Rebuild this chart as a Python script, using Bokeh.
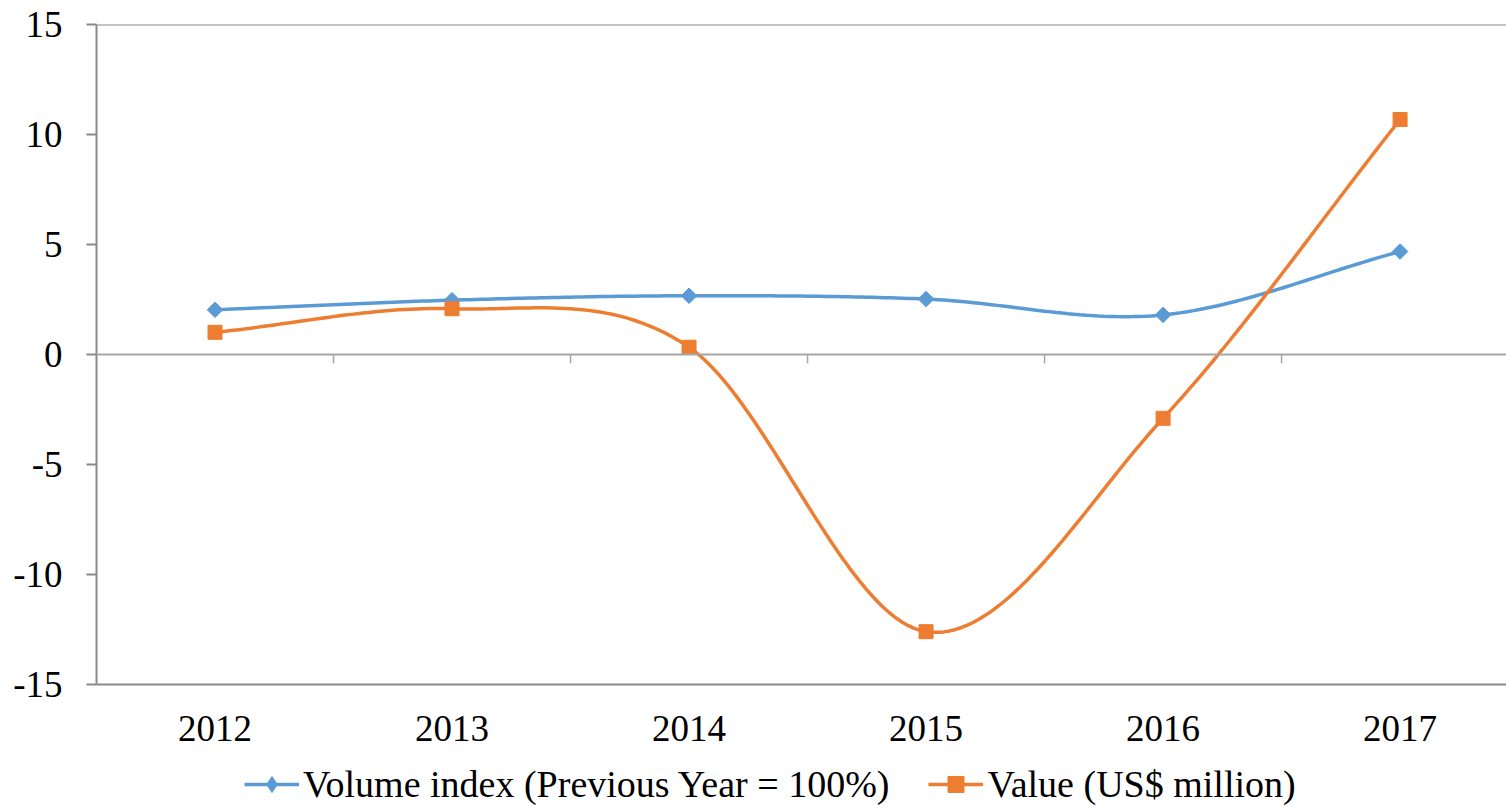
import numpy as np
from bokeh.plotting import figure
from bokeh.models import Range1d, FixedTicker, Span, Legend, LegendItem
from bokeh.core.properties import value as pv
from bokeh.embed import file_html
from bokeh.resources import INLINE

years = ["2012", "2013", "2014", "2015", "2016", "2017"]
volume = [2.03, 2.47, 2.67, 2.52, 1.80, 4.68]
value = [1.01, 2.08, 0.33, -12.6, -2.9, 10.68]
y_ticks = [-15, -10, -5, 0, 5, 10, 15]

BLUE = "#5B9BD5"
ORANGE = "#ED7D31"
GRAY = "#898989"
FONT = "Liberation Serif"
FS = "37px"
LEG_FS = "38px"

Y_TOP, Y_BOT = 15, -15
PX_PER_UNIT = 22.0
FRAME_H = 782


def smooth(ys, n=40):
    # Excel-like smoothed line: Catmull-Rom converted to cubic Bezier
    xs = np.arange(len(ys), dtype=float)
    pts = np.column_stack([xs, np.array(ys, dtype=float)])
    out = []
    m = len(pts)
    for i in range(m - 1):
        p0 = pts[i - 1] if i > 0 else pts[i] - (pts[i + 1] - pts[i])
        p1 = pts[i]
        p2 = pts[i + 1]
        p3 = pts[i + 2] if i + 2 < m else pts[i + 1] + (pts[i + 1] - pts[i])
        c1 = p1 + (p2 - p0) / 6.0
        c2 = p2 - (p3 - p1) / 6.0
        t = np.linspace(0, 1, n, endpoint=(i == m - 2))[:, None]
        seg = ((1 - t) ** 3) * p1 + 3 * ((1 - t) ** 2) * t * c1 + 3 * (1 - t) * t ** 2 * c2 + t ** 3 * p2
        out.append(seg)
    arr = np.vstack(out)
    return arr[:, 0], arr[:, 1]


y_start = Y_TOP - FRAME_H / PX_PER_UNIT
p = figure(frame_width=1410, frame_height=FRAME_H, output_backend="svg", toolbar_location=None,
           x_range=Range1d(-0.5, 5.449), y_range=Range1d(y_start, Y_TOP),
           x_axis_location=None,
           min_border_left=96, min_border_top=24, min_border_right=0, min_border_bottom=0)
p.outline_line_color = None
p.xgrid.visible = False
p.ygrid.visible = False
p.background_fill_color = "white"
p.border_fill_color = "white"

# y axis
p.yaxis.bounds = (Y_BOT, Y_TOP)
p.yaxis.ticker = FixedTicker(ticks=y_ticks)
p.yaxis.major_label_overrides = {t: str(t) for t in y_ticks}
p.yaxis.axis_line_color = GRAY
p.yaxis.axis_line_width = 2
p.yaxis.major_tick_line_color = GRAY
p.yaxis.major_tick_line_width = 2
p.yaxis.major_tick_out = 10
p.yaxis.major_tick_in = 0
p.yaxis.minor_tick_line_color = None
p.yaxis.major_label_text_font = FONT
p.yaxis.major_label_text_font_size = FS
p.yaxis.major_label_text_color = "black"
p.yaxis.major_label_standoff = 24

# horizontal lines at top, bottom and zero
for yv, col in [(Y_TOP, GRAY), (Y_BOT, GRAY), (0, "#A6A6A6")]:
    p.add_layout(Span(location=yv, dimension="width", line_color=col, line_width=2))

# category tick marks on the zero line
tx = [i + 0.5 for i in range(len(years) - 1)]
p.segment(x0=tx, y0=[0] * len(tx), x1=tx, y1=[-0.4] * len(tx), line_color="#A6A6A6", line_width=1.5)

xi = list(range(len(years)))

# category labels under the plot area
p.text(x=xi, y=[Y_BOT] * len(xi), text=years, y_offset=44,
       text_align="center", text_baseline="middle",
       text_font=pv(FONT), text_font_size=pv(FS), text_color="black")

vx, vy = smooth(volume)
ox, oy = smooth(value)

l1 = p.line(vx, vy, line_color=BLUE, line_width=3.5)
m1 = p.scatter(xi, volume, marker="square", angle=np.pi / 4, size=11, fill_color=BLUE, line_color=BLUE)
l2 = p.line(ox, oy, line_color=ORANGE, line_width=3.5)
m2 = p.scatter(xi, value, marker="square", size=14, fill_color=ORANGE, line_color=ORANGE)
# diamond shape used only for the legend swatch (not a data point)
m1_leg = p.scatter([np.nan], [np.nan], marker="diamond", size=15, fill_color=BLUE, line_color=BLUE)

legend = Legend(items=[LegendItem(label="Volume index (Previous Year = 100%)", renderers=[l1, m1_leg]),
                       LegendItem(label="Value (US$ million)", renderers=[l2, m2])],
                orientation="horizontal", location=(148, 0), margin=0, padding=0,
                spacing=39, glyph_width=55, glyph_height=40, label_standoff=4,
                label_text_font=FONT, label_text_font_size=LEG_FS, label_text_color="black",
                border_line_color=None, background_fill_alpha=0)
p.add_layout(legend, "center")

open("out.html", "w").write(file_html(p, INLINE))
